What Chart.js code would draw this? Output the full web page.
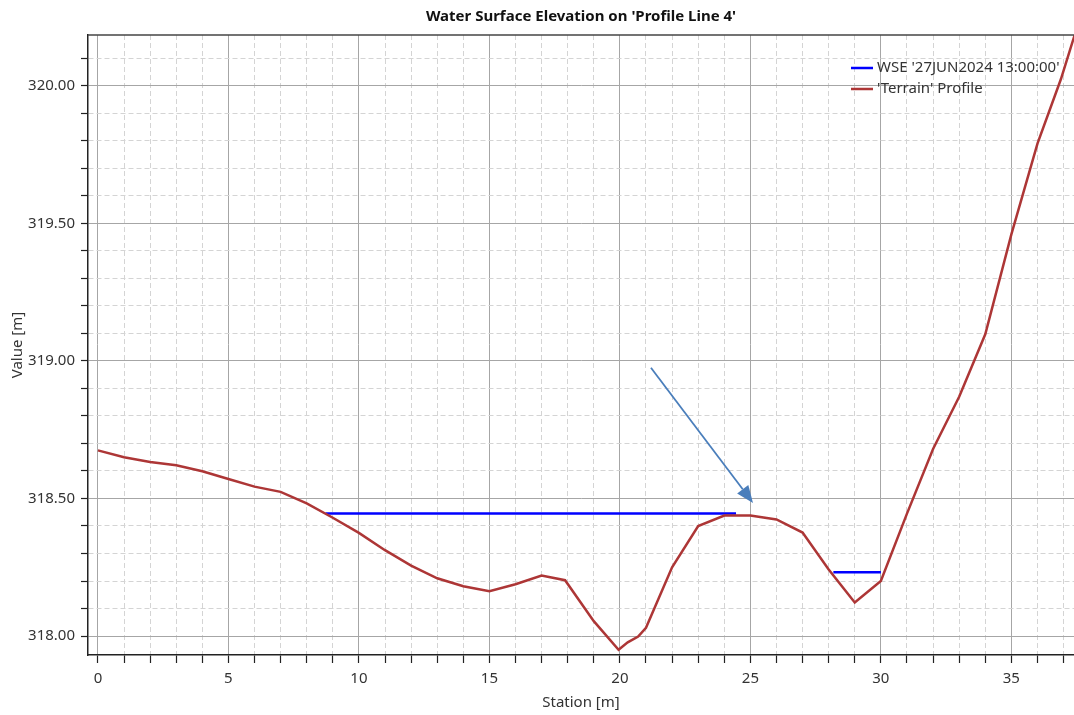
<!DOCTYPE html>
<html>
<head>
<meta charset="utf-8">
<script src="https://cdn.jsdelivr.net/npm/chart.js@4/dist/chart.umd.min.js"></script>
<style>
	html, body { margin: 0; padding: 0; background: #ffffff; }
	#chart-container { width: 1074px; height: 715px; }
</style>
</head>
<body>
<div id="chart-container"><canvas id="profile-chart"></canvas></div>
<script>
const chartTitle = "Water Surface Elevation on 'Profile Line 4'";
const xAxisTitle = "Station [m]";
const yAxisTitle = "Value [m]";

const wseLabel = "WSE '27JUN2024 13:00:00'";
const terrainLabel = "'Terrain' Profile";

// terrain profile
const terrainStation = [0, 1, 2, 3, 4, 5, 6, 7, 8, 9, 10, 11, 12, 13, 14, 15, 16, 17, 17.9, 19, 19.95, 20.3, 20.7, 21, 22, 23, 24, 25, 26, 27, 28, 29, 30, 31, 32, 33, 34, 35, 36, 36.9, 38];
const terrainElevation = [318.675, 318.650, 318.633, 318.621, 318.599, 318.571, 318.543, 318.524, 318.482, 318.430, 318.375, 318.312, 318.256, 318.210, 318.181, 318.163, 318.188, 318.220, 318.203, 318.054, 317.950, 317.977, 317.998, 318.030, 318.250, 318.400, 318.438, 318.438, 318.424, 318.376, 318.242, 318.122, 318.200, 318.445, 318.680, 318.870, 319.097, 319.460, 319.790, 320.025, 320.360];

// water surface, two wet stretches (null = gap)
const wseStation = [8.72, 24.45, 26.3, 28.18, 30.0];
const wseElevation = [318.445, 318.445, null, 318.232, 318.232];

// axis ranges and ticks
const xMin = -0.38;
const xMax = 37.4;
const yMin = 317.931;
const yMax = 320.185;
const xTickValues = [0, 1, 2, 3, 4, 5, 6, 7, 8, 9, 10, 11, 12, 13, 14, 15, 16, 17, 18, 19, 20, 21, 22, 23, 24, 25, 26, 27, 28, 29, 30, 31, 32, 33, 34, 35, 36, 37];
const yTickValues = [318.0, 318.1, 318.2, 318.3, 318.4, 318.5, 318.6, 318.7, 318.8, 318.9, 319.0, 319.1, 319.2, 319.3, 319.4, 319.5, 319.6, 319.7, 319.8, 319.9, 320.0, 320.1];

// annotation arrow (data units)
const arrowFrom = [21.19, 318.975];
const arrowTo = [25.1, 318.484];

const wseColor = "#0000ff";
const terrainColor = "#ad3636";
const arrowColor = "#4a7ebb";
const fontFamily = "'Noto Sans', 'Open Sans', sans-serif";

function isMajor(value, step)
{
	const r = value / step;
	return Math.abs(r - Math.round(r)) < 1e-6;
}

function toPoints(xs, ys)
{
	return xs.map((x, i) => ({ x, y: ys[i] }));
}

function gridColor(ctx, step)
{
	if(!ctx.tick) return "#d4d4d4";
	return isMajor(ctx.tick.value, step) ? "#a6a6a6" : "#d4d4d4";
}

function gridDash(ctx, step)
{
	if(!ctx.tick) return [];
	return isMajor(ctx.tick.value, step) ? [] : [5, 3];
}

const overlayPlugin =
{
	id: "overlay",
	afterDatasetsDraw(chart)
	{
		const { ctx, scales: { x, y } } = chart;

		// arrow
		const x0 = x.getPixelForValue(arrowFrom[0]);
		const y0 = y.getPixelForValue(arrowFrom[1]);
		const x1 = x.getPixelForValue(arrowTo[0]);
		const y1 = y.getPixelForValue(arrowTo[1]);
		const angle = Math.atan2(y1 - y0, x1 - x0);
		const headLen = 17;
		const headHalf = 7;
		const bx = x1 - Math.cos(angle) * headLen;
		const by = y1 - Math.sin(angle) * headLen;

		ctx.save();
		ctx.strokeStyle = arrowColor;
		ctx.fillStyle = arrowColor;
		ctx.lineWidth = 1.8;
		ctx.beginPath();
		ctx.moveTo(x0, y0);
		ctx.lineTo(bx, by);
		ctx.stroke();

		ctx.beginPath();
		ctx.moveTo(x1, y1);
		ctx.lineTo(bx + Math.sin(angle) * headHalf, by - Math.cos(angle) * headHalf);
		ctx.lineTo(bx - Math.sin(angle) * headHalf, by + Math.cos(angle) * headHalf);
		ctx.closePath();
		ctx.fill();
		ctx.restore();
	},
	afterDraw(chart)
	{
		const { ctx, chartArea } = chart;

		ctx.save();

		// top frame line
		ctx.strokeStyle = "#444444";
		ctx.lineWidth = 1.5;
		ctx.beginPath();
		ctx.moveTo(chartArea.left, chartArea.top);
		ctx.lineTo(chartArea.right, chartArea.top);
		ctx.stroke();

		// legend, top right inside the plot
		const items = [
			{ label: wseLabel, color: wseColor },
			{ label: terrainLabel, color: terrainColor }
		];
		const lx = chartArea.right - 223;
		let ly = chartArea.top + 33;

		ctx.font = "15px " + fontFamily;
		ctx.textBaseline = "middle";
		ctx.textAlign = "left";

		for(const item of items)
		{
			ctx.strokeStyle = item.color;
			ctx.lineWidth = 2.5;
			ctx.beginPath();
			ctx.moveTo(lx, ly);
			ctx.lineTo(lx + 22, ly);
			ctx.stroke();

			ctx.fillStyle = "#333333";
			ctx.fillText(item.label, lx + 26, ly);

			ly += 21;
		}

		ctx.restore();
	}
};

new Chart(document.getElementById("profile-chart"),
{
	type: "line",
	data:
	{
		datasets: [
			{
				label: wseLabel,
				data: toPoints(wseStation, wseElevation),
				borderColor: wseColor,
				borderWidth: 2.5,
				pointRadius: 0,
				tension: 0,
				spanGaps: false,
				order: 1
			},
			{
				label: terrainLabel,
				data: toPoints(terrainStation, terrainElevation),
				borderColor: terrainColor,
				borderWidth: 2.5,
				pointRadius: 0,
				tension: 0,
				order: 0
			}
		]
	},
	options:
	{
		responsive: true,
		maintainAspectRatio: false,
		animation: false,
		layout: { padding: 0 },
		plugins:
		{
			legend: { display: false },
			tooltip: { enabled: false },
			title:
			{
				display: true,
				text: chartTitle,
				fullSize: false,
				color: "#111111",
				font: { family: fontFamily, size: 15, weight: "bold", lineHeight: 1.2 },
				padding: { top: 8, bottom: 9 }
			}
		},
		scales:
		{
			x:
			{
				type: "linear",
				min: xMin,
				max: xMax,
				afterBuildTicks: scale => { scale.ticks = xTickValues.map(value => ({ value })); },
				afterFit: scale => { scale.height = 60; },
				ticks:
				{
					autoSkip: false,
					maxRotation: 0,
					padding: 7,
					color: "#333333",
					font: { family: fontFamily, size: 15 },
					callback: value => isMajor(value, 5) ? String(value) : ""
				},
				grid:
				{
					color: ctx => gridColor(ctx, 5),
					lineWidth: 1,
					tickLength: 8,
					tickColor: "#222222",
					tickWidth: 1.2
				},
				border: { display: true, color: "#222222", width: 1.5, dash: ctx => gridDash(ctx, 5) },
				title:
				{
					display: true,
					text: xAxisTitle,
					color: "#333333",
					font: { family: fontFamily, size: 15 },
					padding: { top: 0, bottom: 3 }
				}
			},
			y:
			{
				type: "linear",
				min: yMin,
				max: yMax,
				afterBuildTicks: scale => { scale.ticks = yTickValues.map(value => ({ value })); },
				afterFit: scale => { scale.width = 88; },
				ticks:
				{
					autoSkip: false,
					padding: 6,
					color: "#333333",
					font: { family: fontFamily, size: 15 },
					callback: value => isMajor(value, 0.5) ? Number(value).toFixed(2) : ""
				},
				grid:
				{
					color: ctx => gridColor(ctx, 0.5),
					lineWidth: 1,
					tickLength: 7,
					tickColor: "#222222",
					tickWidth: 1.2
				},
				border: { display: true, color: "#222222", width: 1.5, dash: ctx => gridDash(ctx, 0.5) },
				title:
				{
					display: true,
					text: yAxisTitle,
					color: "#333333",
					font: { family: fontFamily, size: 15 },
					padding: { top: 9, bottom: 0 }
				}
			}
		}
	},
	plugins: [ overlayPlugin ]
});
</script>
</body>
</html>
